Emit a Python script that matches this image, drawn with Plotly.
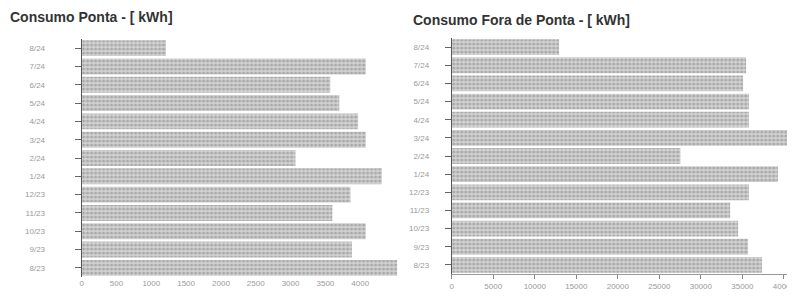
import plotly.graph_objects as go

# page body has an 8px margin, so the figure is drawn 8px smaller and shifted
OFF = 8
W, H = 795 - OFF, 304 - OFF

months = ["8/23", "9/23", "10/23", "11/23", "12/23", "1/24", "2/24",
          "3/24", "4/24", "5/24", "6/24", "7/24", "8/24"]
ponta = [4530, 3880, 4080, 3600, 3860, 4310, 3070,
         4080, 3970, 3700, 3570, 4080, 1210]
fora_ponta = [37360, 35690, 34490, 33530, 35800, 39280, 27540,
              41070, 35800, 35800, 35090, 35450, 12930]

ticks_left = [0, 500, 1000, 1500, 2000, 2500, 3000, 3500, 4000]
ticks_right = [0, 5000, 10000, 15000, 20000, 25000, 30000, 35000, 40000]

bar_style = dict(
    color="#cfcfcf",
    line=dict(width=0),
    pattern=dict(shape=".", fgcolor="#808080", bgcolor="#d4d4d4", size=4, solidity=0.5),
)

fig = go.Figure()
fig.add_trace(go.Bar(y=months, x=ponta, orientation="h", marker=bar_style,
                     xaxis="x", yaxis="y", showlegend=False))
fig.add_trace(go.Bar(y=months, x=fora_ponta, orientation="h", marker=bar_style,
                     xaxis="x2", yaxis="y2", showlegend=False))

tickfont = dict(family="Arial", size=8, color="#9a9a9a")

def px(x):
    return (x - OFF) / W

def py(y):
    return 1 - (y - OFF) / H

fig.update_layout(
    width=W, height=H,
    margin=dict(l=0, r=0, t=0, b=0),
    paper_bgcolor="white", plot_bgcolor="white",
    bargap=0.13,
    xaxis=dict(domain=[px(80), px(402)], range=[0, 4600], tickvals=ticks_left,
               ticktext=[str(t) for t in ticks_left], tickfont=tickfont,
               showgrid=False, zeroline=False, showline=False,
               ticks="", anchor="y"),
    yaxis=dict(domain=[py(277), py(39)], type="category", tickfont=tickfont,
               showgrid=False, zeroline=False, showline=True, linecolor="#555555",
               ticks="outside", ticklen=6, tickcolor="#666666",
               ticklabelstandoff=28, anchor="x"),
    xaxis2=dict(domain=[px(452), px(795)], range=[0, 41100], tickvals=ticks_right,
                ticktext=[str(t) for t in ticks_right], tickfont=tickfont,
                ticklabeloverflow="allow",
                showgrid=False, zeroline=False, showline=True, linecolor="#999999",
                ticks="outside", ticklen=4, tickcolor="#888888", anchor="y2"),
    yaxis2=dict(domain=[py(274), py(38)], type="category", tickfont=tickfont,
                showgrid=False, zeroline=False, showline=True, linecolor="#555555",
                ticks="outside", ticklen=6, tickcolor="#666666",
                ticklabelstandoff=14, anchor="x2"),
    annotations=[
        dict(text="<b>Consumo Ponta - [ kWh]</b>", x=px(6), y=py(17), xref="paper", yref="paper",
             xanchor="left", yanchor="middle", showarrow=False,
             font=dict(family="Arial", size=14, color="#333333")),
        dict(text="<b>Consumo Fora de Ponta - [ kWh]</b>", x=px(411), y=py(20), xref="paper", yref="paper",
             xanchor="left", yanchor="middle", showarrow=False,
             font=dict(family="Arial", size=14, color="#333333")),
    ],
)

fig.write_html("out.html")
